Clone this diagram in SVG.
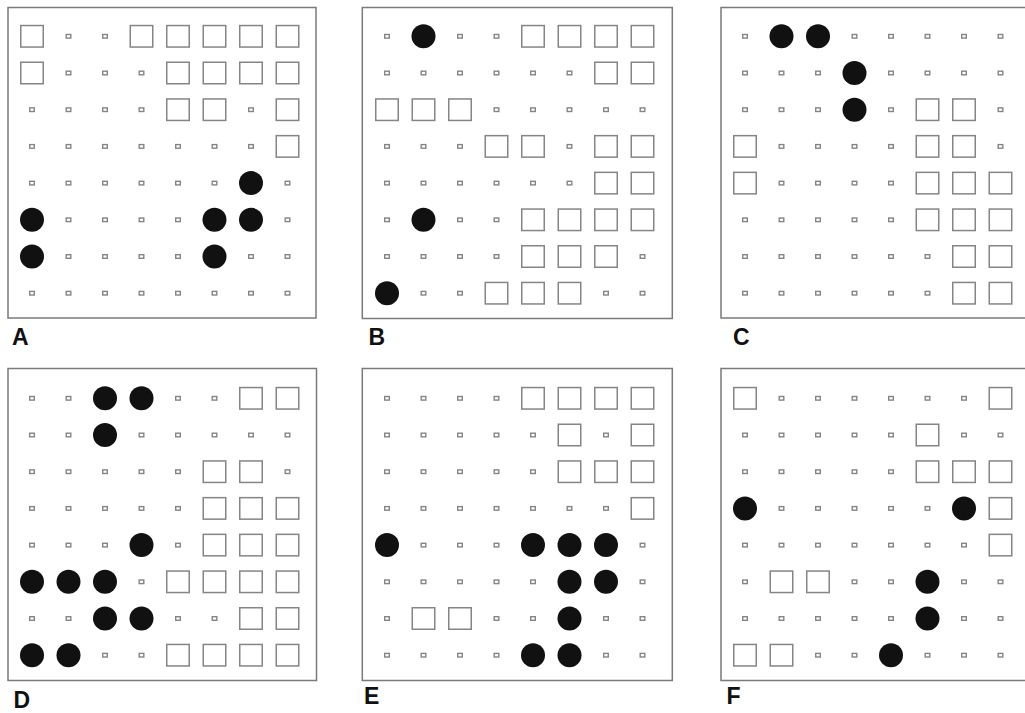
<svg xmlns="http://www.w3.org/2000/svg" width="1025" height="713" viewBox="0 0 1025 713">
<style>
.box{fill:#fff;stroke:#7a7a7a;stroke-width:1.5}
.sm{fill:#fff;stroke:#858585;stroke-width:1.4}
.lg{fill:#fff;stroke:#858585;stroke-width:1.5}
.dot{fill:#111}
.lbl{font-family:"Liberation Sans",Arial,sans-serif;font-weight:bold;font-size:23px;fill:#111}
</style>
<defs>
<rect id="s" class="sm" x="-2.3" y="-1.8" width="4.6" height="3.6"/>
<rect id="L" class="lg" x="-11.25" y="-10.75" width="22.5" height="21.5"/>
<circle id="C" class="dot" r="12"/>
</defs>
<rect width="1025" height="713" fill="#fff"/>

<g id="panelA" transform="translate(8,7.8)">
<rect class="box" x="0" y="-0.3" width="308" height="310.5"/>
<use href="#L" x="24" y="28.5"/><use href="#s" x="60.5" y="28.5"/><use href="#s" x="97" y="28.5"/><use href="#L" x="133.5" y="28.5"/><use href="#L" x="170" y="28.5"/><use href="#L" x="206.5" y="28.5"/><use href="#L" x="243" y="28.5"/><use href="#L" x="279.5" y="28.5"/>
<use href="#L" x="24" y="65.2"/><use href="#s" x="60.5" y="65.2"/><use href="#s" x="97" y="65.2"/><use href="#s" x="133.5" y="65.2"/><use href="#L" x="170" y="65.2"/><use href="#L" x="206.5" y="65.2"/><use href="#L" x="243" y="65.2"/><use href="#L" x="279.5" y="65.2"/>
<use href="#s" x="24" y="101.9"/><use href="#s" x="60.5" y="101.9"/><use href="#s" x="97" y="101.9"/><use href="#s" x="133.5" y="101.9"/><use href="#L" x="170" y="101.9"/><use href="#L" x="206.5" y="101.9"/><use href="#s" x="243" y="101.9"/><use href="#L" x="279.5" y="101.9"/>
<use href="#s" x="24" y="138.6"/><use href="#s" x="60.5" y="138.6"/><use href="#s" x="97" y="138.6"/><use href="#s" x="133.5" y="138.6"/><use href="#s" x="170" y="138.6"/><use href="#s" x="206.5" y="138.6"/><use href="#s" x="243" y="138.6"/><use href="#L" x="279.5" y="138.6"/>
<use href="#s" x="24" y="175.3"/><use href="#s" x="60.5" y="175.3"/><use href="#s" x="97" y="175.3"/><use href="#s" x="133.5" y="175.3"/><use href="#s" x="170" y="175.3"/><use href="#s" x="206.5" y="175.3"/><use href="#C" x="243" y="175.3"/><use href="#s" x="279.5" y="175.3"/>
<use href="#C" x="24" y="212"/><use href="#s" x="60.5" y="212"/><use href="#s" x="97" y="212"/><use href="#s" x="133.5" y="212"/><use href="#s" x="170" y="212"/><use href="#C" x="206.5" y="212"/><use href="#C" x="243" y="212"/><use href="#s" x="279.5" y="212"/>
<use href="#C" x="24" y="248.7"/><use href="#s" x="60.5" y="248.7"/><use href="#s" x="97" y="248.7"/><use href="#s" x="133.5" y="248.7"/><use href="#s" x="170" y="248.7"/><use href="#C" x="206.5" y="248.7"/><use href="#s" x="243" y="248.7"/><use href="#s" x="279.5" y="248.7"/>
<use href="#s" x="24" y="285.4"/><use href="#s" x="60.5" y="285.4"/><use href="#s" x="97" y="285.4"/><use href="#s" x="133.5" y="285.4"/><use href="#s" x="170" y="285.4"/><use href="#s" x="206.5" y="285.4"/><use href="#s" x="243" y="285.4"/><use href="#s" x="279.5" y="285.4"/>
</g>

<g id="panelB" transform="translate(363,7.8)">
<rect class="box" x="-0.7" y="-0.3" width="310" height="311"/>
<use href="#s" x="24" y="28.5"/><use href="#C" x="60.5" y="28.5"/><use href="#s" x="97" y="28.5"/><use href="#s" x="133.5" y="28.5"/><use href="#L" x="170" y="28.5"/><use href="#L" x="206.5" y="28.5"/><use href="#L" x="243" y="28.5"/><use href="#L" x="279.5" y="28.5"/>
<use href="#s" x="24" y="65.2"/><use href="#s" x="60.5" y="65.2"/><use href="#s" x="97" y="65.2"/><use href="#s" x="133.5" y="65.2"/><use href="#s" x="170" y="65.2"/><use href="#s" x="206.5" y="65.2"/><use href="#L" x="243" y="65.2"/><use href="#L" x="279.5" y="65.2"/>
<use href="#L" x="24" y="101.9"/><use href="#L" x="60.5" y="101.9"/><use href="#L" x="97" y="101.9"/><use href="#s" x="133.5" y="101.9"/><use href="#s" x="170" y="101.9"/><use href="#s" x="206.5" y="101.9"/><use href="#s" x="243" y="101.9"/><use href="#s" x="279.5" y="101.9"/>
<use href="#s" x="24" y="138.6"/><use href="#s" x="60.5" y="138.6"/><use href="#s" x="97" y="138.6"/><use href="#L" x="133.5" y="138.6"/><use href="#L" x="170" y="138.6"/><use href="#s" x="206.5" y="138.6"/><use href="#L" x="243" y="138.6"/><use href="#L" x="279.5" y="138.6"/>
<use href="#s" x="24" y="175.3"/><use href="#s" x="60.5" y="175.3"/><use href="#s" x="97" y="175.3"/><use href="#s" x="133.5" y="175.3"/><use href="#s" x="170" y="175.3"/><use href="#s" x="206.5" y="175.3"/><use href="#L" x="243" y="175.3"/><use href="#L" x="279.5" y="175.3"/>
<use href="#s" x="24" y="212"/><use href="#C" x="60.5" y="212"/><use href="#s" x="97" y="212"/><use href="#s" x="133.5" y="212"/><use href="#L" x="170" y="212"/><use href="#L" x="206.5" y="212"/><use href="#L" x="243" y="212"/><use href="#L" x="279.5" y="212"/>
<use href="#s" x="24" y="248.7"/><use href="#s" x="60.5" y="248.7"/><use href="#s" x="97" y="248.7"/><use href="#s" x="133.5" y="248.7"/><use href="#L" x="170" y="248.7"/><use href="#L" x="206.5" y="248.7"/><use href="#L" x="243" y="248.7"/><use href="#s" x="279.5" y="248.7"/>
<use href="#C" x="24" y="285.4"/><use href="#s" x="60.5" y="285.4"/><use href="#s" x="97" y="285.4"/><use href="#L" x="133.5" y="285.4"/><use href="#L" x="170" y="285.4"/><use href="#L" x="206.5" y="285.4"/><use href="#s" x="243" y="285.4"/><use href="#s" x="279.5" y="285.4"/>
</g>

<g id="panelC" transform="translate(721,7.8)">
<rect class="box" x="0" y="-0.3" width="312" height="310.5"/>
<use href="#s" x="24" y="28.5"/><use href="#C" x="60.5" y="28.5"/><use href="#C" x="97" y="28.5"/><use href="#s" x="133.5" y="28.5"/><use href="#s" x="170" y="28.5"/><use href="#s" x="206.5" y="28.5"/><use href="#s" x="243" y="28.5"/><use href="#s" x="279.5" y="28.5"/>
<use href="#s" x="24" y="65.2"/><use href="#s" x="60.5" y="65.2"/><use href="#s" x="97" y="65.2"/><use href="#C" x="133.5" y="65.2"/><use href="#s" x="170" y="65.2"/><use href="#s" x="206.5" y="65.2"/><use href="#s" x="243" y="65.2"/><use href="#s" x="279.5" y="65.2"/>
<use href="#s" x="24" y="101.9"/><use href="#s" x="60.5" y="101.9"/><use href="#s" x="97" y="101.9"/><use href="#C" x="133.5" y="101.9"/><use href="#s" x="170" y="101.9"/><use href="#L" x="206.5" y="101.9"/><use href="#L" x="243" y="101.9"/><use href="#s" x="279.5" y="101.9"/>
<use href="#L" x="24" y="138.6"/><use href="#s" x="60.5" y="138.6"/><use href="#s" x="97" y="138.6"/><use href="#s" x="133.5" y="138.6"/><use href="#s" x="170" y="138.6"/><use href="#L" x="206.5" y="138.6"/><use href="#L" x="243" y="138.6"/><use href="#s" x="279.5" y="138.6"/>
<use href="#L" x="24" y="175.3"/><use href="#s" x="60.5" y="175.3"/><use href="#s" x="97" y="175.3"/><use href="#s" x="133.5" y="175.3"/><use href="#s" x="170" y="175.3"/><use href="#L" x="206.5" y="175.3"/><use href="#L" x="243" y="175.3"/><use href="#L" x="279.5" y="175.3"/>
<use href="#s" x="24" y="212"/><use href="#s" x="60.5" y="212"/><use href="#s" x="97" y="212"/><use href="#s" x="133.5" y="212"/><use href="#s" x="170" y="212"/><use href="#L" x="206.5" y="212"/><use href="#L" x="243" y="212"/><use href="#L" x="279.5" y="212"/>
<use href="#s" x="24" y="248.7"/><use href="#s" x="60.5" y="248.7"/><use href="#s" x="97" y="248.7"/><use href="#s" x="133.5" y="248.7"/><use href="#s" x="170" y="248.7"/><use href="#s" x="206.5" y="248.7"/><use href="#L" x="243" y="248.7"/><use href="#L" x="279.5" y="248.7"/>
<use href="#s" x="24" y="285.4"/><use href="#s" x="60.5" y="285.4"/><use href="#s" x="97" y="285.4"/><use href="#s" x="133.5" y="285.4"/><use href="#s" x="170" y="285.4"/><use href="#s" x="206.5" y="285.4"/><use href="#L" x="243" y="285.4"/><use href="#L" x="279.5" y="285.4"/>
</g>

<g id="panelD" transform="translate(8,369.8)">
<rect class="box" x="0" y="-1.3" width="308.5" height="312"/>
<use href="#s" x="24" y="28.5"/><use href="#s" x="60.5" y="28.5"/><use href="#C" x="97" y="28.5"/><use href="#C" x="133.5" y="28.5"/><use href="#s" x="170" y="28.5"/><use href="#s" x="206.5" y="28.5"/><use href="#L" x="243" y="28.5"/><use href="#L" x="279.5" y="28.5"/>
<use href="#s" x="24" y="65.2"/><use href="#s" x="60.5" y="65.2"/><use href="#C" x="97" y="65.2"/><use href="#s" x="133.5" y="65.2"/><use href="#s" x="170" y="65.2"/><use href="#s" x="206.5" y="65.2"/><use href="#s" x="243" y="65.2"/><use href="#s" x="279.5" y="65.2"/>
<use href="#s" x="24" y="101.9"/><use href="#s" x="60.5" y="101.9"/><use href="#s" x="97" y="101.9"/><use href="#s" x="133.5" y="101.9"/><use href="#s" x="170" y="101.9"/><use href="#L" x="206.5" y="101.9"/><use href="#L" x="243" y="101.9"/><use href="#s" x="279.5" y="101.9"/>
<use href="#s" x="24" y="138.6"/><use href="#s" x="60.5" y="138.6"/><use href="#s" x="97" y="138.6"/><use href="#s" x="133.5" y="138.6"/><use href="#s" x="170" y="138.6"/><use href="#L" x="206.5" y="138.6"/><use href="#L" x="243" y="138.6"/><use href="#L" x="279.5" y="138.6"/>
<use href="#s" x="24" y="175.3"/><use href="#s" x="60.5" y="175.3"/><use href="#s" x="97" y="175.3"/><use href="#C" x="133.5" y="175.3"/><use href="#s" x="170" y="175.3"/><use href="#L" x="206.5" y="175.3"/><use href="#L" x="243" y="175.3"/><use href="#L" x="279.5" y="175.3"/>
<use href="#C" x="24" y="212"/><use href="#C" x="60.5" y="212"/><use href="#C" x="97" y="212"/><use href="#s" x="133.5" y="212"/><use href="#L" x="170" y="212"/><use href="#L" x="206.5" y="212"/><use href="#L" x="243" y="212"/><use href="#L" x="279.5" y="212"/>
<use href="#s" x="24" y="248.7"/><use href="#s" x="60.5" y="248.7"/><use href="#C" x="97" y="248.7"/><use href="#C" x="133.5" y="248.7"/><use href="#s" x="170" y="248.7"/><use href="#s" x="206.5" y="248.7"/><use href="#L" x="243" y="248.7"/><use href="#L" x="279.5" y="248.7"/>
<use href="#C" x="24" y="285.4"/><use href="#C" x="60.5" y="285.4"/><use href="#s" x="97" y="285.4"/><use href="#s" x="133.5" y="285.4"/><use href="#L" x="170" y="285.4"/><use href="#L" x="206.5" y="285.4"/><use href="#L" x="243" y="285.4"/><use href="#L" x="279.5" y="285.4"/>
</g>

<g id="panelE" transform="translate(363,369.8)">
<rect class="box" x="-0.7" y="-1.3" width="310" height="312"/>
<use href="#s" x="24" y="28.5"/><use href="#s" x="60.5" y="28.5"/><use href="#s" x="97" y="28.5"/><use href="#s" x="133.5" y="28.5"/><use href="#L" x="170" y="28.5"/><use href="#L" x="206.5" y="28.5"/><use href="#L" x="243" y="28.5"/><use href="#L" x="279.5" y="28.5"/>
<use href="#s" x="24" y="65.2"/><use href="#s" x="60.5" y="65.2"/><use href="#s" x="97" y="65.2"/><use href="#s" x="133.5" y="65.2"/><use href="#s" x="170" y="65.2"/><use href="#L" x="206.5" y="65.2"/><use href="#s" x="243" y="65.2"/><use href="#L" x="279.5" y="65.2"/>
<use href="#s" x="24" y="101.9"/><use href="#s" x="60.5" y="101.9"/><use href="#s" x="97" y="101.9"/><use href="#s" x="133.5" y="101.9"/><use href="#s" x="170" y="101.9"/><use href="#L" x="206.5" y="101.9"/><use href="#L" x="243" y="101.9"/><use href="#L" x="279.5" y="101.9"/>
<use href="#s" x="24" y="138.6"/><use href="#s" x="60.5" y="138.6"/><use href="#s" x="97" y="138.6"/><use href="#s" x="133.5" y="138.6"/><use href="#s" x="170" y="138.6"/><use href="#s" x="206.5" y="138.6"/><use href="#s" x="243" y="138.6"/><use href="#L" x="279.5" y="138.6"/>
<use href="#C" x="24" y="175.3"/><use href="#s" x="60.5" y="175.3"/><use href="#s" x="97" y="175.3"/><use href="#s" x="133.5" y="175.3"/><use href="#C" x="170" y="175.3"/><use href="#C" x="206.5" y="175.3"/><use href="#C" x="243" y="175.3"/><use href="#s" x="279.5" y="175.3"/>
<use href="#s" x="24" y="212"/><use href="#s" x="60.5" y="212"/><use href="#s" x="97" y="212"/><use href="#s" x="133.5" y="212"/><use href="#s" x="170" y="212"/><use href="#C" x="206.5" y="212"/><use href="#C" x="243" y="212"/><use href="#s" x="279.5" y="212"/>
<use href="#s" x="24" y="248.7"/><use href="#L" x="60.5" y="248.7"/><use href="#L" x="97" y="248.7"/><use href="#s" x="133.5" y="248.7"/><use href="#s" x="170" y="248.7"/><use href="#C" x="206.5" y="248.7"/><use href="#s" x="243" y="248.7"/><use href="#s" x="279.5" y="248.7"/>
<use href="#s" x="24" y="285.4"/><use href="#s" x="60.5" y="285.4"/><use href="#s" x="97" y="285.4"/><use href="#s" x="133.5" y="285.4"/><use href="#C" x="170" y="285.4"/><use href="#C" x="206.5" y="285.4"/><use href="#s" x="243" y="285.4"/><use href="#s" x="279.5" y="285.4"/>
</g>

<g id="panelF" transform="translate(721,369.8)">
<rect class="box" x="0" y="-1.3" width="312" height="312"/>
<use href="#L" x="24" y="28.5"/><use href="#s" x="60.5" y="28.5"/><use href="#s" x="97" y="28.5"/><use href="#s" x="133.5" y="28.5"/><use href="#s" x="170" y="28.5"/><use href="#s" x="206.5" y="28.5"/><use href="#s" x="243" y="28.5"/><use href="#L" x="279.5" y="28.5"/>
<use href="#s" x="24" y="65.2"/><use href="#s" x="60.5" y="65.2"/><use href="#s" x="97" y="65.2"/><use href="#s" x="133.5" y="65.2"/><use href="#s" x="170" y="65.2"/><use href="#L" x="206.5" y="65.2"/><use href="#s" x="243" y="65.2"/><use href="#s" x="279.5" y="65.2"/>
<use href="#s" x="24" y="101.9"/><use href="#s" x="60.5" y="101.9"/><use href="#s" x="97" y="101.9"/><use href="#s" x="133.5" y="101.9"/><use href="#s" x="170" y="101.9"/><use href="#L" x="206.5" y="101.9"/><use href="#L" x="243" y="101.9"/><use href="#L" x="279.5" y="101.9"/>
<use href="#C" x="24" y="138.6"/><use href="#s" x="60.5" y="138.6"/><use href="#s" x="97" y="138.6"/><use href="#s" x="133.5" y="138.6"/><use href="#s" x="170" y="138.6"/><use href="#s" x="206.5" y="138.6"/><use href="#C" x="243" y="138.6"/><use href="#L" x="279.5" y="138.6"/>
<use href="#s" x="24" y="175.3"/><use href="#s" x="60.5" y="175.3"/><use href="#s" x="97" y="175.3"/><use href="#s" x="133.5" y="175.3"/><use href="#s" x="170" y="175.3"/><use href="#s" x="206.5" y="175.3"/><use href="#s" x="243" y="175.3"/><use href="#L" x="279.5" y="175.3"/>
<use href="#s" x="24" y="212"/><use href="#L" x="60.5" y="212"/><use href="#L" x="97" y="212"/><use href="#s" x="133.5" y="212"/><use href="#s" x="170" y="212"/><use href="#C" x="206.5" y="212"/><use href="#s" x="243" y="212"/><use href="#s" x="279.5" y="212"/>
<use href="#s" x="24" y="248.7"/><use href="#s" x="60.5" y="248.7"/><use href="#s" x="97" y="248.7"/><use href="#s" x="133.5" y="248.7"/><use href="#s" x="170" y="248.7"/><use href="#C" x="206.5" y="248.7"/><use href="#s" x="243" y="248.7"/><use href="#s" x="279.5" y="248.7"/>
<use href="#L" x="24" y="285.4"/><use href="#L" x="60.5" y="285.4"/><use href="#s" x="97" y="285.4"/><use href="#s" x="133.5" y="285.4"/><use href="#C" x="170" y="285.4"/><use href="#s" x="206.5" y="285.4"/><use href="#s" x="243" y="285.4"/><use href="#s" x="279.5" y="285.4"/>
</g>

<g id="labels">
<text class="lbl" x="12" y="345">A</text>
<text class="lbl" x="368.5" y="345">B</text>
<text class="lbl" x="733" y="345">C</text>
<text class="lbl" x="13.5" y="708">D</text>
<text class="lbl" x="364" y="704">E</text>
<text class="lbl" x="726.5" y="704">F</text>
</g>
</svg>
